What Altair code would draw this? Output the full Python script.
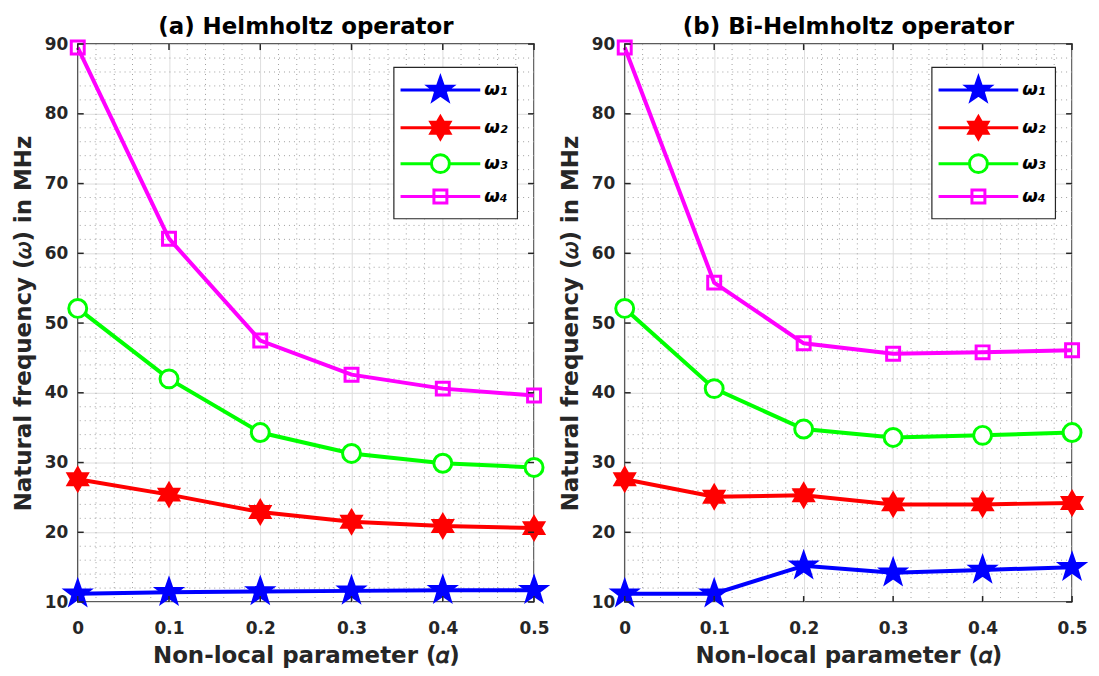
import math
import altair as alt
import pandas as pd

# ---------------- data ----------------
alpha = [0.0, 0.1, 0.2, 0.3, 0.4, 0.5]
series = ["ω₁", "ω₂", "ω₃", "ω₄"]

helm_w1 = [11.2, 11.4, 11.5, 11.6, 11.7, 11.7]
helm_w2 = [27.6, 25.4, 22.9, 21.5, 20.9, 20.6]
helm_w3 = [52.1, 42.0, 34.3, 31.3, 29.9, 29.3]
helm_w4 = [89.5, 62.1, 47.5, 42.6, 40.6, 39.6]

bihelm_w1 = [11.2, 11.2, 15.2, 14.2, 14.6, 15.0]
bihelm_w2 = [27.6, 25.1, 25.3, 24.0, 24.0, 24.2]
bihelm_w3 = [52.1, 40.6, 34.8, 33.6, 33.9, 34.3]
bihelm_w4 = [89.5, 55.8, 47.1, 45.6, 45.8, 46.1]

x_ticks = [0.0, 0.1, 0.2, 0.3, 0.4, 0.5]
y_ticks = [10, 20, 30, 40, 50, 60, 70, 80, 90]
x_minor = [0.02, 0.04, 0.06, 0.08, 0.12, 0.14, 0.16, 0.18, 0.22, 0.24, 0.26, 0.28,
           0.32, 0.34, 0.36, 0.38, 0.42, 0.44, 0.46, 0.48]
y_minor = [12, 14, 16, 18, 22, 24, 26, 28, 32, 34, 36, 38, 42, 44, 46, 48, 52, 54, 56, 58,
           62, 64, 66, 68, 72, 74, 76, 78, 82, 84, 86, 88]

colors = ["#0000ff", "#ff0000", "#00ff00", "#ff00ff"]
fills = ["#0000ff", "#ff0000", "#ffffff", "transparent"]

FONT = "DejaVu Sans"
TXT = "#262626"


# ---------------- marker shapes ----------------
def star_path(n, r_out, r_in):
    pts = []
    for k in range(2 * n):
        r = r_out if k % 2 == 0 else r_in
        a = math.radians(-90 + k * 180.0 / n)
        pts.append(f"{r * math.cos(a):.3f},{r * math.sin(a):.3f}")
    return "M" + "L".join(pts) + "Z"


PENT = star_path(5, 1.0, 0.40)
HEXA = star_path(6, 0.88, 0.88 / math.sqrt(3))
CIRC = "M0.72,0A0.72,0.72,0,1,1,-0.72,0A0.72,0.72,0,1,1,0.72,0Z"
SQR = "M-0.52,-0.52H0.52V0.52H-0.52Z"
shapes_plot = [PENT, HEXA, CIRC, SQR]
L = 3.2
shapes_legend = [
    f"M-{L},0H{L}" + PENT,
    f"M-{L},0H{L}" + HEXA,
    f"M-{L},0H-0.72M0.72,0H{L}" + CIRC,
    f"M-{L},0H{L}" + SQR,
]


def long_df(vals):
    rows = []
    for s, v in zip(series, vals):
        for a, y in zip(alpha, v):
            rows.append({"alpha": a, "freq": y, "series": s})
    return pd.DataFrame(rows)


def panel(vals, title, width, height=560):
    df = long_df(vals)
    xs = alt.Scale(domain=[0, 0.5], nice=False, zero=False)
    ys = alt.Scale(domain=[10, 90], nice=False, zero=False)
    x = alt.X("alpha:Q", scale=xs,
              axis=alt.Axis(values=x_ticks, format=".1~f", title="Non-local parameter (𝛼)",
                            labelPadding=19, titlePadding=8, labelFlush=False))
    y = alt.Y("freq:Q", scale=ys,
              axis=alt.Axis(values=y_ticks, title="Natural frequency (𝜔) in MHz",
                            labelPadding=10, titlePadding=9, labelFlush=False))

    strk = lambda leg: alt.Stroke("series:N", scale=alt.Scale(domain=series, range=colors), legend=leg)
    fll = lambda leg: alt.Fill("series:N", scale=alt.Scale(domain=series, range=fills), legend=leg)

    xm = pd.DataFrame({"v": x_minor})
    ym = pd.DataFrame({"v": y_minor})
    xt = pd.DataFrame({"v": x_ticks})
    yt = pd.DataFrame({"v": y_ticks})

    minor_x = alt.Chart(xm).mark_rule(color="#a0a0a0", strokeWidth=1, strokeDash=[1, 4]).encode(
        x=alt.X("v:Q", scale=xs))
    minor_y = alt.Chart(ym).mark_rule(color="#a0a0a0", strokeWidth=1, strokeDash=[1, 4]).encode(
        y=alt.Y("v:Q", scale=ys))
    tick_b = alt.Chart(xt).mark_rule(color=TXT, strokeWidth=1.5).encode(
        x=alt.X("v:Q", scale=xs), y=alt.value(height), y2=alt.value(height - 6))
    tick_t = alt.Chart(xt).mark_rule(color=TXT, strokeWidth=1.5).encode(
        x=alt.X("v:Q", scale=xs), y=alt.value(0), y2=alt.value(6))
    tick_l = alt.Chart(yt).mark_rule(color=TXT, strokeWidth=1.5).encode(
        y=alt.Y("v:Q", scale=ys), x=alt.value(0), x2=alt.value(6))
    tick_r = alt.Chart(yt).mark_rule(color=TXT, strokeWidth=1.5).encode(
        y=alt.Y("v:Q", scale=ys), x=alt.value(width), x2=alt.value(width - 6))

    base = alt.Chart(df)
    lines = base.mark_line(strokeWidth=4).encode(x=x, y=y, stroke=strk(None), detail="series:N")
    pts = base.mark_point(size=625, strokeWidth=3, opacity=1).encode(
        x=x, y=y,
        shape=alt.Shape("series:N", scale=alt.Scale(domain=series, range=shapes_plot), legend=None),
        stroke=strk(None), fill=fll(None))
    leg = alt.Legend(title=None, orient="none", legendX=width - 141, legendY=23)
    legend_layer = base.transform_calculate(off="-1000").mark_point(
        size=625, strokeWidth=3, opacity=1, clip=True).encode(
        x=x, y=alt.Y("off:Q", scale=ys),
        shape=alt.Shape("series:N", scale=alt.Scale(domain=series, range=shapes_legend), legend=leg),
        stroke=strk(leg), fill=fll(leg))

    return alt.layer(minor_x, minor_y, lines, pts, legend_layer, tick_b, tick_t, tick_l, tick_r).resolve_scale(
        shape="independent", stroke="independent", fill="independent"
    ).properties(
        width=width, height=height,
        title=alt.TitleParams(title, fontSize=23, font=FONT, fontWeight="bold", color="#000000",
                              anchor="middle", offset=-3.5),
    )


p1 = panel([helm_w1, helm_w2, helm_w3, helm_w4], "(a) Helmholtz operator", 458)
p2 = panel([bihelm_w1, bihelm_w2, bihelm_w3, bihelm_w4], "(b) Bi-Helmholtz operator", 449)

chart = alt.hconcat(p1, p2, spacing=91, bounds="flush").properties(
    padding={"left": 3, "top": 5, "right": 0, "bottom": 0}
).configure_view(stroke=TXT, strokeWidth=1.5).configure_axis(
    labelFont=FONT, labelFontSize=17, labelFontWeight="bold", labelColor=TXT,
    titleFont=FONT, titleFontSize=23, titleFontWeight="bold", titleColor=TXT,
    domain=False, ticks=False, tickSize=0, grid=True, gridColor="#dedede", gridWidth=1,
).configure_legend(
    padding=9, fillColor="#ffffff", strokeColor=TXT,
    strokeWidth=1.2, symbolSize=625, symbolStrokeWidth=3, symbolOffset=24,
    labelOffset=30, labelFont=FONT, labelFontSize=18, labelFontWeight="bold",
    labelFontStyle="italic", labelColor="#000000", rowPadding=4, cornerRadius=0,
)

chart.save("out.html", embed_options={"renderer": "svg", "actions": False})
